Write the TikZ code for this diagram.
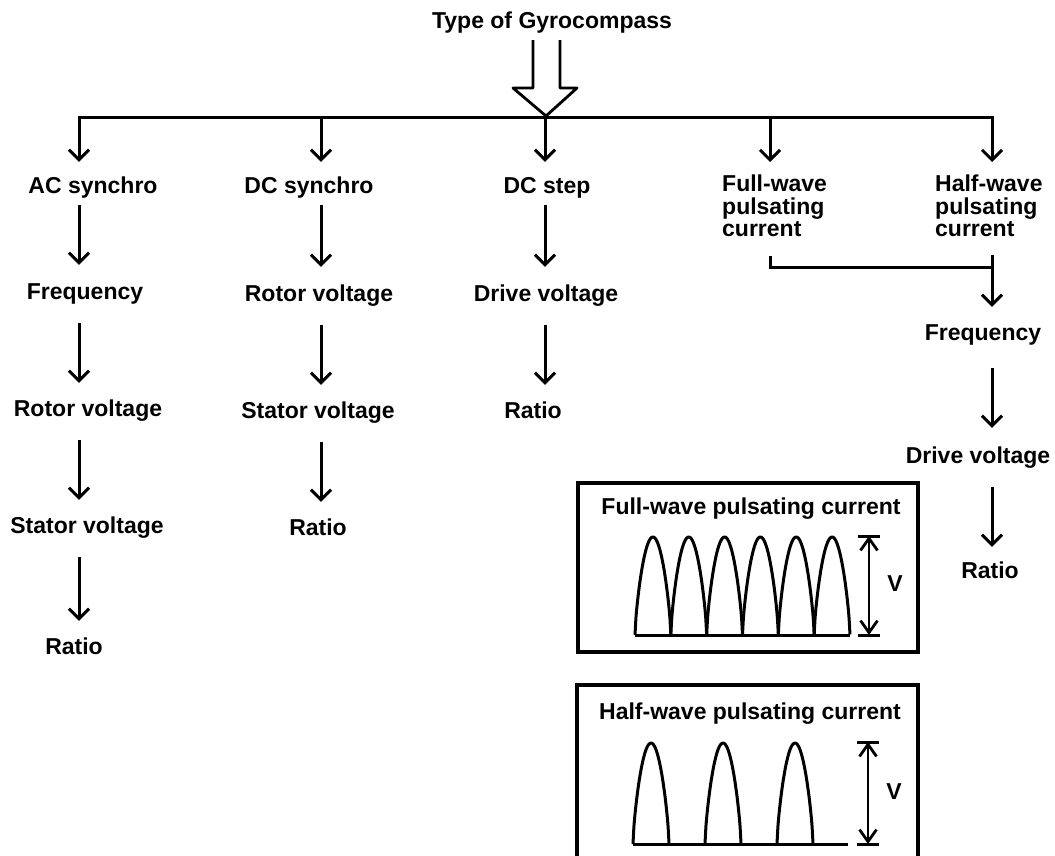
\documentclass[tikz,border=0pt]{standalone}
\usepackage{fontspec}
\setmainfont{Liberation Sans}
\usetikzlibrary{arrows.meta}
\begin{document}
\begin{tikzpicture}[x=1pt,y=-1pt,
  lbl/.style={font=\fontsize{23}{22.5}\selectfont\bfseries, inner sep=0pt, text height=17pt, text depth=5pt},
  ml/.style={font=\fontsize{23}{22.5}\selectfont\bfseries, inner sep=0pt, align=left, anchor=north west},
  ln/.style={line width=3pt},
  arr/.style={line width=3pt, -{Straight Barb[length=10pt,width=20pt]}},
  dn/.style={arr, shorten <=19pt, shorten >=16pt},
  dn1/.style={arr, shorten <=7pt, shorten >=17pt},
  top/.style={arr, shorten >=14pt},
  dimarr/.style={line width=2.8pt, {Straight Barb[length=12pt,width=17pt]}-{Straight Barb[length=12pt,width=17pt]}},
  wave/.style={line width=3pt},
  frame/.style={line width=4pt}]
\useasboundingbox (0,0) rectangle (1055,855);
\clip (0,0) rectangle (1055,855);

% columns and bar
\coordinate (c1) at (79,0);
\coordinate (c2) at (321,0);
\coordinate (c3) at (545,0);
\coordinate (c4) at (770,0);
\coordinate (c5) at (992,0);
\coordinate (bar) at (0,117);

% title and hollow arrow
\node[lbl] (title) at (552,22) {Type of Gyrocompass};
\draw[line width=2.8pt, line join=round]
  (533,40) -- (533,88) -- (513,88) -- (546,116) -- (577,88) -- (560,88) -- (560,40);

% column heads
\node[lbl] (ac)  at (93,187)  {AC synchro};
\node[lbl] (ds)  at (309,187) {DC synchro};
\node[lbl] (dst) at (547,187) {DC step};
\node[ml]  (fw)  at (722,175) {Full-wave\\pulsating\\current};
\node[ml]  (hw)  at (935,175) {Half-wave\\pulsating\\current};

% AC column
\node[lbl] (fq1) at (85,293)  {Frequency};
\node[lbl] (rv1) at (88,410)  {Rotor voltage};
\node[lbl] (sv1) at (87,527)  {Stator voltage};
\node[lbl] (ra1) at (74,648)  {Ratio};

% DC synchro column
\node[lbl] (rv2) at (319,295) {Rotor voltage};
\node[lbl] (sv2) at (318,412) {Stator voltage};
\node[lbl] (ra2) at (318,529) {Ratio};

% DC step column
\node[lbl] (dv3) at (546,295) {Drive voltage};
\node[lbl] (ra3) at (533,412) {Ratio};

% pulsating column
\node[lbl] (fr)  at (983,334) {Frequency};
\node[lbl] (dv5) at (978,457) {Drive voltage};
\node[lbl] (ra5) at (990,572) {Ratio};

% bar and drops
\draw[top] (c3|-bar) -| (ac.north -| c1);
\draw[arr, shorten >=13pt] (c3|-bar) -| (hw.north -| c5);
\draw[top] (c2|-bar) -- (ds.north -| c2);
\draw[top] (c3|-bar) -- (dst.north -| c3);
\draw[arr, shorten >=13pt] (c4|-bar) -- (fw.north -| c4);

% AC column arrows
\draw[dn1] (ac.south -| c1) -- (fq1.north -| c1);
\draw[dn] (fq1.south -| c1) -- (rv1.north -| c1);
\draw[dn] (rv1.south -| c1) -- (sv1.north -| c1);
\draw[dn] (sv1.south -| c1) -- (ra1.north -| c1);

% DC synchro arrows
\draw[dn1] (ds.south -| c2) -- (rv2.north -| c2);
\draw[dn] (rv2.south -| c2) -- (sv2.north -| c2);
\draw[dn] (sv2.south -| c2) -- (ra2.north -| c2);

% DC step arrows
\draw[dn1] (dst.south -| c3) -- (dv3.north -| c3);
\draw[dn] (dv3.south -| c3) -- (ra3.north -| c3);

% pulsating merge
\coordinate (j) at (992,267);
\draw[ln] ([yshift=-19pt]fw.south -| c4) |- (j);
\draw[arr, shorten <=18pt, shorten >=16pt] (hw.south -| c5) -- (fr.north -| c5);
\draw[arr, shorten <=23pt, shorten >=18pt] (fr.south -| c5) -- (dv5.north -| c5);
\draw[arr, shorten <=19pt, shorten >=14pt] (dv5.south -| c5) -- (ra5.north -| c5);

% Full-wave box
\draw[frame] (578,483) rectangle (918,652);
\node[lbl] (fwt) at (751,508) {Full-wave pulsating current};
\foreach \i in {0,...,5}
  \draw[wave] plot[domain=0:1, samples=40, smooth]
    ({635+35.83*\i+35.83*\x}, {635-98*(sin(180*\x))^0.7});
\draw[wave] (635,635) -- (850,635);
\coordinate (ft) at (869,536);
\coordinate (fb) at (869,635);
\draw[dimarr] (fb) -- (ft);
\draw[ln] ([xshift=-11pt]ft) -- ([xshift=11pt]ft);
\draw[ln] ([xshift=-11pt]fb) -- ([xshift=11pt]fb);
\node[lbl] (vf) at (895,585) {V};

% Half-wave box
\draw[frame] (577,685) rectangle (918,880);
\node[lbl] (hwt) at (750,713) {Half-wave pulsating current};
\foreach \i in {0,1,2}
  \draw[wave] plot[domain=0:1, samples=40, smooth]
    ({633+72*\i+36*\x}, {844-101*(sin(180*\x))^0.7});
\draw[wave] (633,844) -- (848,844);
\coordinate (ht) at (868,742);
\coordinate (hb) at (868,844);
\draw[dimarr] (hb) -- (ht);
\draw[ln] ([xshift=-11pt]ht) -- ([xshift=11pt]ht);
\draw[ln] ([xshift=-11pt]hb) -- ([xshift=11pt]hb);
\node[lbl] (vh) at (894,793) {V};
\end{tikzpicture}
\end{document}
